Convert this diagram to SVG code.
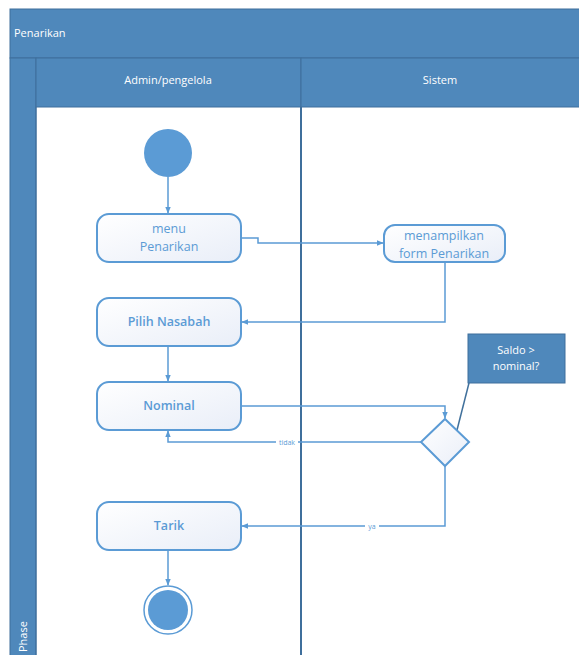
<svg xmlns="http://www.w3.org/2000/svg" width="579" height="655" viewBox="0 0 579 655">
<defs>
<linearGradient id="ng" x1="0" y1="0" x2="1" y2="1">
<stop offset="0" stop-color="#FFFFFF"/>
<stop offset="1" stop-color="#E9EEF8"/>
</linearGradient>
<marker id="ah" viewBox="0 0 10 10" refX="9" refY="5" markerWidth="7" markerHeight="7" orient="auto" markerUnits="userSpaceOnUse">
<path d="M0,1 L10,5 L0,9 Z" fill="#5B9BD5"/>
</marker>
</defs>
<style>
.hdr{fill:#4F88BB;stroke:#3F6F9C;stroke-width:1}
.ht{font-family:"Open Sans","Liberation Sans",sans-serif;font-size:11px;fill:#FFFFFF}
.node{fill:url(#ng);stroke:#5B9BD5;stroke-width:2}
.nt{font-family:"Open Sans","Liberation Sans",sans-serif;font-size:12.5px;fill:#5B9BD5;text-anchor:middle}
.b{font-weight:600}
.c{fill:none;stroke:#5B9BD5;stroke-width:1.5}
.lbl{font-family:"Open Sans","Liberation Sans",sans-serif;font-size:7px;fill:#5B9BD5;text-anchor:middle}
</style>
<rect width="579" height="655" fill="#FFFFFF"/>
<g id="pool">
<rect class="hdr" x="10" y="9" width="575" height="49"/>
<text class="ht" x="14" y="37">Penarikan</text>
<rect class="hdr" x="10" y="58" width="26" height="600"/>
<text class="ht" x="27" y="652" transform="rotate(-90 27 652)" font-size="10px">Phase</text>
<rect class="hdr" x="36" y="58" width="265" height="49"/>
<rect class="hdr" x="301" y="58" width="284" height="49"/>
<text class="ht" x="168" y="84" text-anchor="middle">Admin/pengelola</text>
<text class="ht" x="440" y="84" text-anchor="middle">Sistem</text>
<line x1="36" y1="107" x2="36" y2="655" stroke="#3F6F9C" stroke-width="1"/>
<line x1="301" y1="107" x2="301" y2="655" stroke="#3F6F9C" stroke-width="2"/>
</g>
<g id="connectors">
<path class="c" d="M168,177 L168,213" marker-end="url(#ah)"/>
<path class="c" d="M241,238 L258,238 L258,243 L383,243" marker-end="url(#ah)"/>
<path class="c" d="M445,262 L445,322 L242,322" marker-end="url(#ah)"/>
<path class="c" d="M168,346 L168,381" marker-end="url(#ah)"/>
<path class="c" d="M241,406 L445,406 L445,418" marker-end="url(#ah)"/>
<path class="c" d="M421,442 L168,442 L168,431" marker-end="url(#ah)"/>
<path class="c" d="M445,466 L445,526 L242,526" marker-end="url(#ah)"/>
<path class="c" d="M168,550 L168,585" marker-end="url(#ah)"/>
<rect x="276" y="438" width="22" height="8" fill="#FFFFFF"/>
<text class="lbl" x="287" y="444.5">tidak</text>
<rect x="365" y="522" width="14" height="8" fill="#FFFFFF"/>
<text class="lbl" x="372" y="528.5">ya</text>
<line x1="469" y1="383" x2="457" y2="430" stroke="#41719C" stroke-width="1.5"/>
</g>
<g id="start">
<circle cx="168" cy="153" r="24" fill="#5B9BD5"/>
</g>
<g id="menu">
<rect class="node" x="97" y="214" width="144" height="48" rx="12"/>
<text class="nt" x="169" y="233">menu</text>
<text class="nt" x="169" y="251">Penarikan</text>
</g>
<g id="tampil">
<rect class="node" x="384" y="225" width="121" height="37" rx="11"/>
<text class="nt" x="444" y="240">menampilkan</text>
<text class="nt" x="444" y="258">form Penarikan</text>
</g>
<g id="pilih">
<rect class="node" x="97" y="298" width="144" height="48" rx="12"/>
<text class="nt b" x="169" y="326">Pilih Nasabah</text>
</g>
<g id="nominal">
<rect class="node" x="97" y="382" width="144" height="48" rx="12"/>
<text class="nt b" x="169" y="410">Nominal</text>
</g>
<g id="decision">
<path class="node" d="M445,419 L469,442 L445,466 L421,442 Z" stroke-width="1.5"/>
</g>
<g id="note">
<rect x="468" y="334" width="97" height="49" fill="#4F88BB" stroke="#3F6F9C" stroke-width="1"/>
<text class="ht" x="516" y="354" text-anchor="middle" font-size="10px">Saldo &gt;</text>
<text class="ht" x="516" y="370" text-anchor="middle" font-size="10px">nominal?</text>
</g>
<g id="tarik">
<rect class="node" x="97" y="502" width="144" height="48" rx="12"/>
<text class="nt b" x="169" y="530">Tarik</text>
</g>
<g id="end">
<circle cx="168" cy="610" r="24" fill="#FFFFFF" stroke="#5B9BD5" stroke-width="1.5"/>
<circle cx="168" cy="610" r="20" fill="#5B9BD5"/>
</g>
</svg>
